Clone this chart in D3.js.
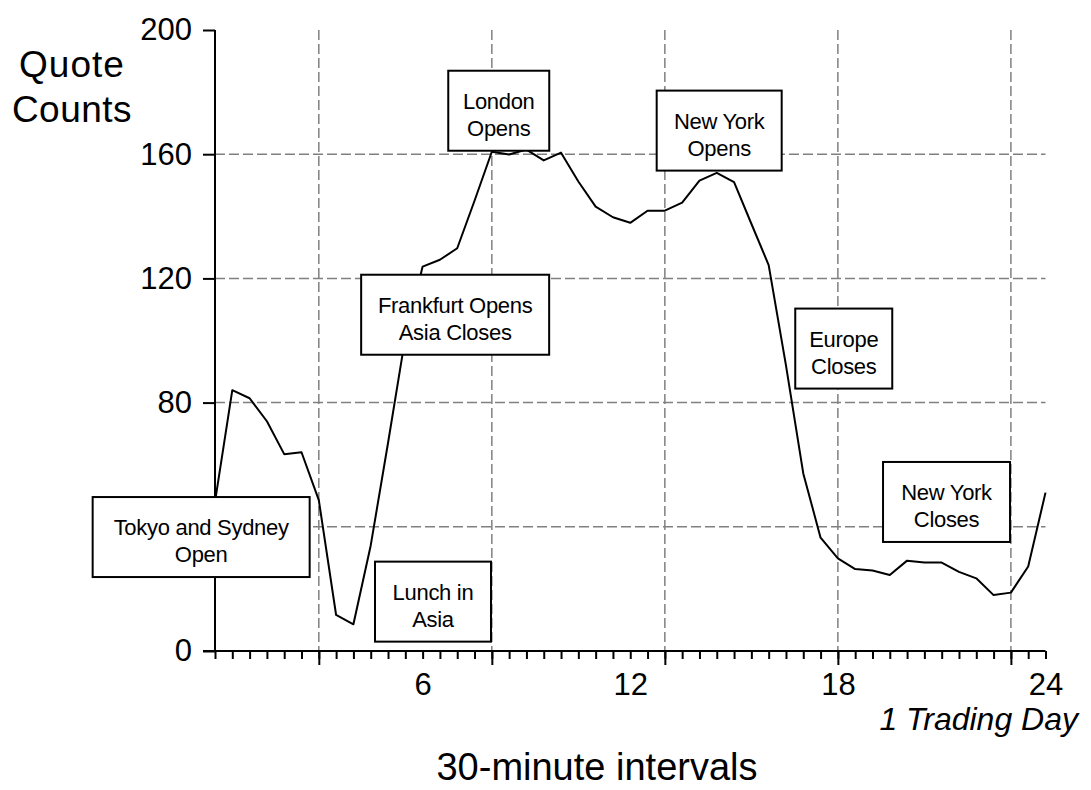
<!DOCTYPE html>
<html>
<head>
<meta charset="utf-8">
<script src="https://cdn.jsdelivr.net/npm/d3@7"></script>
<style>
  html, body { margin: 0; padding: 0; background: #fff; }
  svg { display: block; font-family: "Liberation Sans", Arial, sans-serif; }
</style>
</head>
<body>
<svg id="chart" width="1091" height="790"></svg>
<script>
// ---- data ----
const hours = d3.range(0, 24.01, 0.5);
const quoteCounts = [
  48, 84, 81.4, 74, 63.4, 64, 48.6, 11.6, 8.6, 34, 67, 101,
  123.8, 126, 129.7, 145, 160.8, 159.9, 161.5, 158, 160.5, 151.2, 143.1, 139.7,
  137.9, 141.8, 141.8, 144.4, 151.5, 154, 151, 137.6, 124.3, 92, 57.2, 36.5,
  29.8, 26.4, 25.9, 24.5, 29.1, 28.5, 28.5, 25.5, 23.4, 18, 18.8, 27.2, 51
];
const yTicks = [0, 40, 80, 120, 160, 200];
const yLabelTicks = [0, 80, 120, 160, 200];
const yGridValues = [40, 80, 120, 160];
const xLabelTicks = [6, 12, 18, 24];
const xMajorTicks = [3, 8, 13, 18, 23];
const xMinorTicks = d3.range(0, 24.01, 0.5);
const annotationText = [
  ["Tokyo and Sydney", "Open"],
  ["Lunch in", "Asia"],
  ["Frankfurt Opens", "Asia Closes"],
  ["London", "Opens"],
  ["New York", "Opens"],
  ["Europe", "Closes"],
  ["New York", "Closes"]
];
const annotationHour = [-0.40, 6.3, 6.94, 8.2, 14.57, 18.17, 21.14];
const annotationValue = [36.7, 15.9, 108.3, 174, 167.6, 97.4, 48];
const annotationBoxWidth = [217, 116, 188, 101, 125, 97, 127];

// ---- layout ----
const svg = d3.select("#chart");
const x = d3.scaleLinear().domain([0, 24]).range([215, 1045.5]);
const y = d3.scaleLinear().domain([0, 200]).range([651, 30]);

svg.append("rect").attr("width", 1091).attr("height", 790).attr("fill", "#fff");

// grid
const grid = svg.append("g").attr("stroke", "#808080").attr("stroke-width", 1.5)
  .attr("stroke-dasharray", "10,4").attr("fill", "none");
grid.selectAll("line.h").data(yGridValues).join("line").attr("class", "h")
  .attr("x1", x(0)).attr("x2", x(24)).attr("y1", d => y(d)).attr("y2", d => y(d));
grid.selectAll("line.v").data(xMajorTicks).join("line").attr("class", "v")
  .attr("x1", d => x(d)).attr("x2", d => x(d)).attr("y1", y(200)).attr("y2", y(0));

// line
const line = d3.line().x((d, i) => x(hours[i])).y(d => y(d));
svg.append("path").datum(quoteCounts).attr("d", line)
  .attr("fill", "none").attr("stroke", "#000").attr("stroke-width", 2)
  .attr("stroke-linejoin", "round");

// axes
const xAxisMinor = d3.axisBottom(x).tickValues(xMinorTicks).tickSize(8).tickFormat("");
const xAxisMajor = d3.axisBottom(x).tickValues(xMajorTicks).tickSize(14).tickFormat("");
const xAxisLabels = d3.axisBottom(x).tickValues(xLabelTicks).tickSize(0).tickPadding(22).tickFormat(d3.format("d"));
const yAxis = d3.axisLeft(y).tickValues(yTicks).tickSize(12).tickFormat("");
const yAxisLabels = d3.axisLeft(y).tickValues(yLabelTicks).tickSize(0).tickPadding(23).tickFormat(d3.format("d"));

function styleAxis(g) {
  g.select(".domain").remove();
  g.selectAll(".tick line").attr("stroke", "#000").attr("stroke-width", 2);
  g.selectAll(".tick text").attr("fill", "#000").attr("font-family", "Liberation Sans, Arial, sans-serif");
}
svg.append("g").attr("transform", `translate(0,${y(0)})`).call(xAxisMinor).call(styleAxis);
svg.append("g").attr("transform", `translate(0,${y(0)})`).call(xAxisMajor).call(styleAxis);
const xl = svg.append("g").attr("transform", `translate(0,${y(0)})`).call(xAxisLabels).call(styleAxis);
xl.selectAll(".tick text").attr("font-size", 31);
svg.append("g").attr("transform", `translate(${x(0)},0)`).call(yAxis).call(styleAxis);
const yl = svg.append("g").attr("transform", `translate(${x(0)},0)`).call(yAxisLabels).call(styleAxis);
yl.selectAll(".tick text").attr("font-size", 31);

// axis lines
svg.append("line").attr("x1", 203).attr("x2", x(24)).attr("y1", y(0)).attr("y2", y(0))
  .attr("stroke", "#000").attr("stroke-width", 2);
svg.append("line").attr("x1", x(0)).attr("x2", x(0)).attr("y1", y(200)).attr("y2", y(0))
  .attr("stroke", "#000").attr("stroke-width", 2);

// annotation boxes
const boxH = 80;
const ann = svg.append("g").selectAll("g").data(annotationText).join("g")
  .attr("transform", (d, i) => `translate(${x(annotationHour[i])},${y(annotationValue[i])})`);
ann.append("rect")
  .attr("x", (d, i) => -annotationBoxWidth[i] / 2).attr("y", -boxH / 2)
  .attr("width", (d, i) => annotationBoxWidth[i]).attr("height", boxH)
  .attr("fill", "#fff").attr("stroke", "#000").attr("stroke-width", 2);
ann.each(function(d) {
  const g = d3.select(this);
  d.forEach((t, j) => {
    g.append("text").attr("x", 0).attr("y", j === 0 ? -2 : 25)
      .attr("text-anchor", "middle").attr("font-size", 22).attr("fill", "#000")
      .attr("letter-spacing", "-0.3").text(t);
  });
});

// titles
svg.append("text").attr("x", 72).attr("y", 77).attr("text-anchor", "middle")
  .attr("font-size", 37).attr("letter-spacing", "1").text("Quote");
svg.append("text").attr("x", 72).attr("y", 122).attr("text-anchor", "middle")
  .attr("font-size", 37).attr("letter-spacing", "0.5").text("Counts");
svg.append("text").attr("x", 1078).attr("y", 730).attr("text-anchor", "end")
  .attr("font-size", 32).attr("font-style", "italic").text("1 Trading Day");
svg.append("text").attr("x", 597).attr("y", 780).attr("text-anchor", "middle")
  .attr("font-size", 38).text("30-minute intervals");
</script>
</body>
</html>
